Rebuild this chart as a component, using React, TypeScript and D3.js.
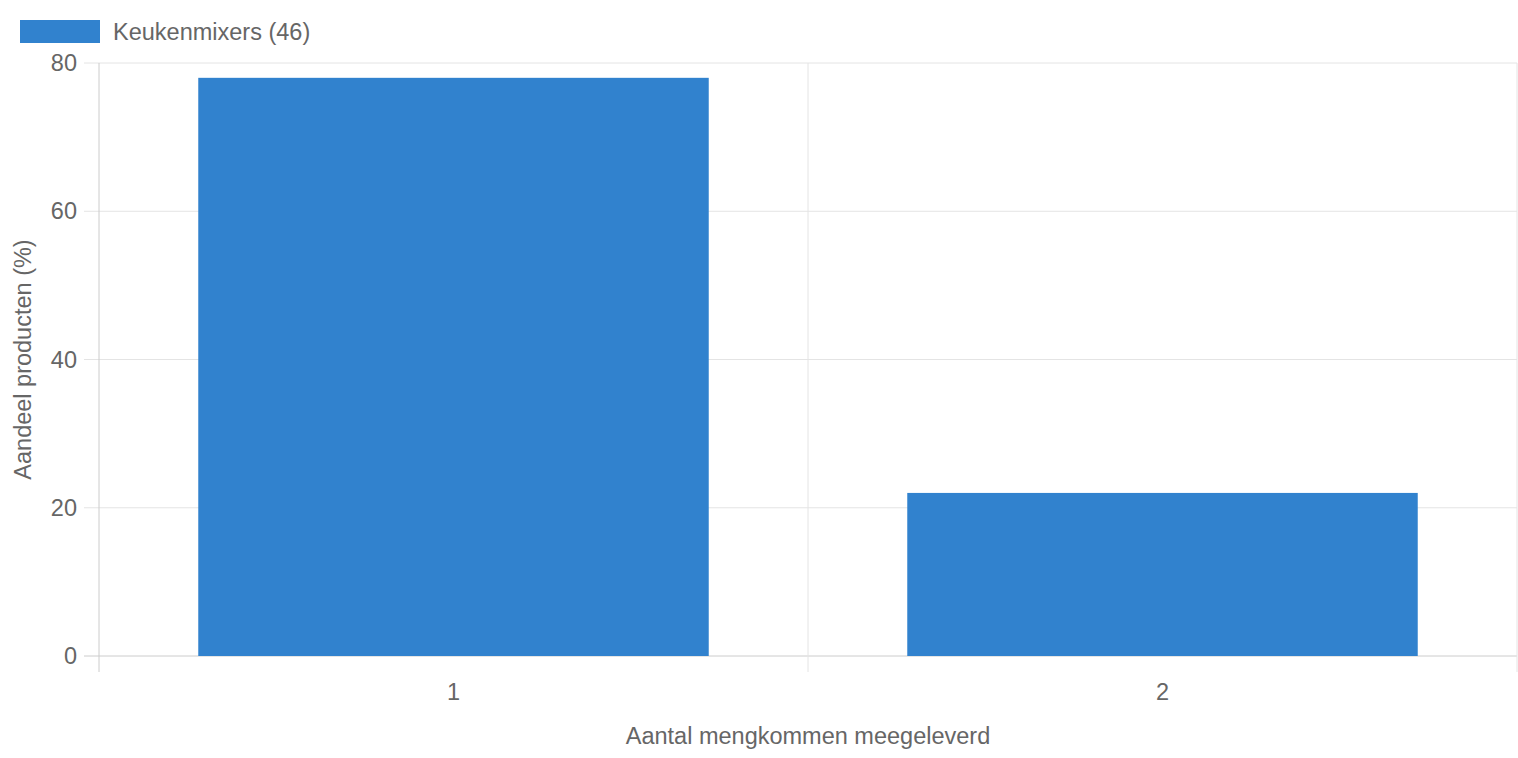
import React from 'react'
import * as d3 from 'd3'

const categories = ['1', '2']
const values = [78, 22]
const yTicks = [0, 20, 40, 60, 80]
const seriesLabel = 'Keukenmixers (46)'
const xTitle = 'Aantal mengkommen meegeleverd'
const yTitle = 'Aandeel producten (%)'

const W = 1518
const H = 758
const left = 99
const right = 1517
const top = 63
const bottom = 656
const font = '"Liberation Sans", Arial, Helvetica, sans-serif'
const textColor = '#666'
const barColor = '#3182ce'
const fs = 23.5

const App: React.FC = () => {
  const x = d3.scaleBand<string>().domain(categories).range([left, right])
  const y = d3.scaleLinear().domain([0, 80]).range([bottom, top])
  const barW = x.bandwidth() * 0.72
  const boundaries = [left, ...categories.map((c) => (x(c) as number) + x.bandwidth())]

  return (
    <svg width={W} height={H} style={{ position: 'absolute', left: 0, top: 0 }} fontFamily={font}>
      {/* legend */}
      <rect x={20} y={20} width={80} height={23} fill={barColor} />
      <text x={113} y={40} fontSize={fs} fill={textColor}>{seriesLabel}</text>

      {/* horizontal grid */}
      {yTicks.map((t) => (
        <g key={t}>
          <line x1={84} x2={right} y1={y(t)} y2={y(t)} stroke={t === 0 ? '#ccc' : '#e4e4e4'} strokeWidth={1} />
          <text x={77} y={y(t)} dy="0.35em" textAnchor="end" fontSize={fs} fill={textColor}>{t}</text>
        </g>
      ))}

      {/* vertical grid */}
      {boundaries.map((b, i) => (
        <line key={i} x1={b} x2={b} y1={top} y2={672} stroke={i === 0 ? '#ccc' : '#e4e4e4'} strokeWidth={1} />
      ))}

      {/* bars */}
      {categories.map((c, i) => {
        const cx = (x(c) as number) + x.bandwidth() / 2
        return (
          <rect key={c} x={cx - barW / 2} y={y(values[i])} width={barW} height={bottom - y(values[i])} fill={barColor} />
        )
      })}

      {/* x tick labels */}
      {categories.map((c) => (
        <text key={c} x={(x(c) as number) + x.bandwidth() / 2} y={700} textAnchor="middle" fontSize={fs} fill={textColor}>{c}</text>
      ))}

      <text x={(left + right) / 2} y={744} textAnchor="middle" fontSize={fs} fill={textColor}>{xTitle}</text>
      <text transform={`translate(31, ${(top + bottom) / 2}) rotate(-90)`} textAnchor="middle" fontSize={fs} fill={textColor}>{yTitle}</text>
    </svg>
  )
}

export default App
